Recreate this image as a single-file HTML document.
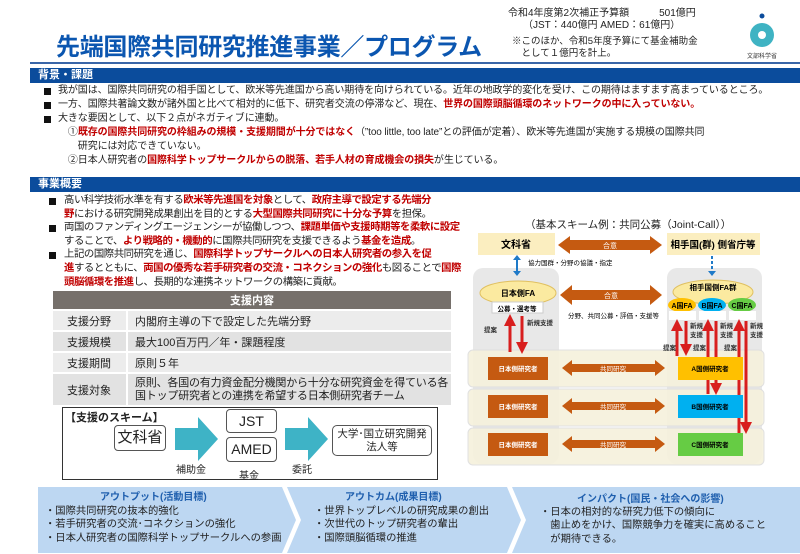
<!DOCTYPE html>
<html><head><meta charset="utf-8"><style>
*{margin:0;padding:0;box-sizing:border-box}
body{width:800px;height:554px;background:#fff;position:relative;overflow:hidden;font-family:"Liberation Sans","Noto Sans CJK JP",sans-serif;color:#222}
.a{position:absolute;white-space:nowrap}
.r{color:#c00000;font-weight:bold}
.bar{position:absolute;left:30px;width:770px;height:15px;background:#0b4c9c;color:#fff;font-size:11px;font-weight:bold;padding-left:8px;line-height:15px}
.bl{font-size:10px;line-height:14px;letter-spacing:-0.1px}
.bl2{font-size:10.4px;line-height:13.6px;letter-spacing:-0.45px}
.sq{position:absolute;width:7px;height:7px;background:#111}
table{border-collapse:collapse}
</style></head><body>
<div class="a" style="left:56px;top:27px;font-size:24px;font-weight:bold;color:#0b56b0;letter-spacing:-0.3px">先端国際共同研究推進事業／プログラム</div>
<div class="a" style="left:30px;top:62px;width:770px;height:2px;background:#3a66a8"></div>
<div class="a" style="left:508px;top:8px;font-size:10px;line-height:12px">令和4年度第2次補正予算額　　　501億円<br>　　（JST：440億円 AMED：61億円）</div>
<div class="a" style="left:512px;top:36px;font-size:9.5px;line-height:12px">※このほか、令和5年度予算にて基金補助金<br>　として１億円を計上。</div>
<svg class="a" style="left:745px;top:12px" width="34" height="50"><circle cx="17" cy="4" r="2.5" fill="#0b4c9c"/><circle cx="17" cy="23" r="12" fill="#3fb3c3"/><circle cx="17" cy="23" r="4" fill="#fff"/><text x="17" y="46" font-size="6" text-anchor="middle" fill="#333">文部科学省</text></svg>

<div class="bar" style="top:68px">背景・課題</div>
<div class="sq" style="left:44px;top:88px"></div><div class="sq" style="left:44px;top:102px"></div><div class="sq" style="left:44px;top:116px"></div>
<div class="a bl" style="left:58px;top:84px">我が国は、国際共同研究の相手国として、欧米等先進国から高い期待を向けられている。近年の地政学的変化を受け、この期待はますます高まっているところ。<br>一方、国際共著論文数が諸外国と比べて相対的に低下、研究者交流の停滞など、現在、<span class="r">世界の国際頭脳循環のネットワークの中に入っていない。</span><br>大きな要因として、以下２点がネガティブに連動。<br>　①<span class="r">既存の国際共同研究の枠組みの規模・支援期間が十分ではなく</span>（”too little, too late”との評価が定着）、欧米等先進国が実施する規模の国際共同<br>　　研究には対応できていない。<br>　②日本人研究者の<span class="r">国際科学トップサークルからの脱落、若手人材の育成機会の損失</span>が生じている。</div>

<div class="bar" style="top:177px">事業概要</div>
<div class="sq" style="left:49px;top:198px"></div><div class="sq" style="left:49px;top:225px"></div><div class="sq" style="left:49px;top:252px"></div>
<div class="a bl2" style="left:64px;top:194px">高い科学技術水準を有する<span class="r">欧米等先進国を対象</span>として、<span class="r">政府主導で設定する先端分</span><br><span class="r">野</span>における研究開発成果創出を目的とする<span class="r">大型国際共同研究に十分な予算</span>を担保。<br>両国のファンディングエージェンシーが協働しつつ、<span class="r">課題単価や支援時期等を柔軟に設定</span><br>することで、<span class="r">より戦略的・機動的</span>に国際共同研究を支援できるよう<span class="r">基金を造成</span>。<br>上記の国際共同研究を通じ、<span class="r">国際科学トップサークルへの日本人研究者の参入を促</span><br><span class="r">進</span>するとともに、<span class="r">両国の優秀な若手研究者の交流・コネクションの強化</span>も図ることで<span class="r">国際</span><br><span class="r">頭脳循環を推進</span>し、長期的な連携ネットワークの構築に貢献。</div>

<table class="a" style="left:53px;top:291px;width:398px;font-size:11px">
<tr><td colspan="2" style="height:19px;background:#76706b;color:#fff;text-align:center;font-weight:bold;border-bottom:2px solid #fff">支援内容</td></tr>
<tr style="background:#ececec"><td style="width:74px;height:21px;padding-left:14px;border-right:2px solid #fff;border-bottom:2px solid #fff">支援分野</td><td style="padding-left:7px;border-bottom:2px solid #fff">内閣府主導の下で設定した先端分野</td></tr>
<tr style="background:#e2e2e2"><td style="height:21px;padding-left:14px;border-right:2px solid #fff;border-bottom:2px solid #fff">支援規模</td><td style="padding-left:7px;border-bottom:2px solid #fff">最大100百万円／年・課題程度</td></tr>
<tr style="background:#ececec"><td style="height:21px;padding-left:14px;border-right:2px solid #fff;border-bottom:2px solid #fff">支援期間</td><td style="padding-left:7px;border-bottom:2px solid #fff">原則５年</td></tr>
<tr style="background:#e2e2e2"><td style="height:32px;padding-left:14px;border-right:2px solid #fff">支援対象</td><td style="padding-left:7px;line-height:13px;letter-spacing:-0.2px">原則、各国の有力資金配分機関から十分な研究資金を得ている各<br>国トップ研究者との連携を希望する日本側研究者チーム</td></tr>
</table>

<div class="a" style="left:62px;top:407px;width:376px;height:73px;border:1px solid #333;background:#fff"></div>
<div class="a" style="left:65px;top:409px;font-size:11px;font-weight:bold">【支援のスキーム】</div>
<div class="a" style="left:114px;top:425px;width:52px;height:26px;border:1px solid #555;border-radius:4px;font-size:15px;text-align:center;line-height:24px">文科省</div>
<div class="a" style="left:226px;top:409px;width:51px;height:24px;border:1px solid #555;border-radius:4px;font-size:14px;text-align:center;line-height:22px">JST</div>
<div class="a" style="left:226px;top:437px;width:51px;height:25px;border:1px solid #555;border-radius:4px;font-size:14px;text-align:center;line-height:23px">AMED</div>
<div class="a" style="left:332px;top:425px;width:100px;height:31px;border:1px solid #555;border-radius:5px;font-size:10.5px;text-align:center;line-height:13px;padding-top:2px">大学･国立研究開発<br>法人等</div>
<svg class="a" style="left:0;top:0" width="470" height="480">
<polygon points="175,428 198,428 198,417 218,439 198,461 198,450 175,450" fill="#3eb3c6"/>
<polygon points="285,428 308,428 308,417 328,439 308,461 308,450 285,450" fill="#3eb3c6"/>
</svg>
<div class="a" style="left:176px;top:461px;font-size:10px">補助金</div>
<div class="a" style="left:239px;top:467px;font-size:10px">基金</div>
<div class="a" style="left:292px;top:461px;font-size:10px">委託</div>

<div class="a" style="left:525px;top:217px;font-size:10.5px">（基本スキーム例：共同公募（Joint-Call））</div>
<svg class="a" style="left:0;top:0" width="800" height="480" font-family="Liberation Sans,Noto Sans CJK JP,sans-serif">
<defs>
<marker id="rh" markerWidth="4" markerHeight="4" refX="2" refY="2" orient="auto"><path d="M0,0L4,2L0,4z" fill="#d81e1e"/></marker>
</defs>
<rect x="473" y="268" width="86" height="196" rx="10" fill="#e8e8e8"/>
<rect x="667" y="268" width="95" height="196" rx="10" fill="#e8e8e8"/>
<rect x="468" y="350" width="296" height="37" rx="5" fill="#f6f1dc" stroke="#ddd" opacity="0.9"/>
<rect x="468" y="389" width="296" height="37" rx="5" fill="#f6f1dc" stroke="#ddd" opacity="0.9"/>
<rect x="468" y="428" width="296" height="37" rx="5" fill="#f6f1dc" stroke="#ddd" opacity="0.9"/>
<rect x="478" y="233" width="77" height="22" fill="#fbeec0"/>
<text x="516" y="248" font-size="10" font-weight="bold" text-anchor="middle">文科省</text>
<rect x="667" y="233" width="93" height="22" fill="#fbeec0"/>
<text x="713" y="248" font-size="9.5" font-weight="bold" text-anchor="middle">相手国(群) 側省庁等</text>
<polygon points="558,245 570,236 570,240 650,240 650,236 662,245 650,254 650,250 570,250 570,254" fill="#c55a11"/>
<text x="610" y="248" font-size="7" fill="#fff" text-anchor="middle">合意</text>
<polygon points="560,295 572,285 572,290 650,290 650,285 662,295 650,305 650,300 572,300 572,305" fill="#c55a11"/>
<text x="611" y="298" font-size="7" fill="#fff" text-anchor="middle">合意</text>
<text x="568" y="318" font-size="6.5">分野、共同公募・評価・支援等</text>
<line x1="517" y1="258" x2="517" y2="273" stroke="#1f7ac8" stroke-width="2"/>
<path d="M513,260L517,255L521,260zM513,271L517,276L521,271z" fill="#1f7ac8"/>
<text x="528" y="265" font-size="6.5">協力国群・分野の協議・指定</text>
<line x1="712" y1="256" x2="712" y2="271" stroke="#1f7ac8" stroke-width="2" stroke-dasharray="3,2"/>
<path d="M708,271L712,276L716,271z" fill="#1f7ac8"/>
<ellipse cx="518" cy="293" rx="38" ry="12" fill="#fbeaa0" stroke="#e0c060"/>
<text x="518" y="296" font-size="8" font-weight="bold" text-anchor="middle">日本側FA</text>
<rect x="492" y="302" width="51" height="11" fill="#fff" stroke="#ccc"/>
<text x="517" y="311" font-size="6.5" font-weight="bold" text-anchor="middle">公募・選考等</text>
<ellipse cx="713" cy="292" rx="40" ry="12" fill="#fbeaa0" stroke="#e0c060"/>
<text x="713" y="290" font-size="7.5" font-weight="bold" text-anchor="middle">相手国側FA群</text>
<ellipse cx="682" cy="305" rx="14" ry="7" fill="#ffc000"/><text x="682" y="308" font-size="7" font-weight="bold" text-anchor="middle">A国FA</text>
<ellipse cx="712" cy="305" rx="14" ry="7" fill="#00b0f0"/><text x="712" y="308" font-size="7" font-weight="bold" text-anchor="middle">B国FA</text>
<ellipse cx="742" cy="305" rx="14" ry="7" fill="#66cc44"/><text x="742" y="308" font-size="7" font-weight="bold" text-anchor="middle">C国FA</text>
<rect x="669" y="311" width="27" height="9" fill="#fff"/><rect x="699" y="311" width="27" height="9" fill="#fff"/><rect x="729" y="311" width="27" height="9" fill="#fff"/>
<g stroke="#d81e1e" stroke-width="3">
<line x1="510" y1="352" x2="510" y2="320" marker-end="url(#rh)"/>
<line x1="522" y1="316" x2="522" y2="348" marker-end="url(#rh)"/>
<line x1="677" y1="356" x2="677" y2="325" marker-end="url(#rh)"/>
<line x1="686" y1="321" x2="686" y2="350" marker-end="url(#rh)"/>
<line x1="708" y1="394" x2="708" y2="325" marker-end="url(#rh)"/>
<line x1="716" y1="321" x2="716" y2="389" marker-end="url(#rh)"/>
<line x1="739" y1="433" x2="739" y2="325" marker-end="url(#rh)"/>
<line x1="746" y1="321" x2="746" y2="428" marker-end="url(#rh)"/>
</g>
<g font-size="6.5" font-weight="bold" fill="#333">
<text x="484" y="332">提案</text><text x="527" y="325">新規支援</text>
<text x="663" y="350">提案</text><text x="690" y="328">新規</text><text x="690" y="337">支援</text>
<text x="693" y="350">提案</text><text x="720" y="328">新規</text><text x="720" y="337">支援</text>
<text x="724" y="350">提案</text><text x="750" y="328">新規</text><text x="750" y="337">支援</text>
</g>
<g font-size="6.5" fill="#fff" text-anchor="middle" font-weight="bold">
<rect x="488" y="357" width="60" height="23" fill="#c55a11"/><text x="518" y="371">日本側研究者</text>
<rect x="488" y="395" width="60" height="23" fill="#c55a11"/><text x="518" y="409">日本側研究者</text>
<rect x="488" y="433" width="60" height="23" fill="#c55a11"/><text x="518" y="447">日本側研究者</text>
</g>
<g>
<polygon points="562,368 572,360 572,364 655,364 655,360 665,368 655,376 655,372 572,372 572,376" fill="#c55a11"/>
<polygon points="562,406 572,398 572,402 655,402 655,398 665,406 655,414 655,410 572,410 572,414" fill="#c55a11"/>
<polygon points="562,444 572,436 572,440 655,440 655,436 665,444 655,452 655,448 572,448 572,452" fill="#c55a11"/>
<g font-size="6.5" fill="#fff" text-anchor="middle"><text x="613" y="371">共同研究</text><text x="613" y="409">共同研究</text><text x="613" y="447">共同研究</text></g>
</g>
<rect x="678" y="357" width="65" height="23" fill="#ffc000"/><text x="710" y="371" font-size="6.5" text-anchor="middle" font-weight="bold">A国側研究者</text>
<rect x="678" y="395" width="65" height="23" fill="#00b0f0"/><text x="710" y="409" font-size="6.5" text-anchor="middle" font-weight="bold">B国側研究者</text>
<rect x="678" y="433" width="65" height="23" fill="#66cc44"/><text x="710" y="447" font-size="6.5" text-anchor="middle" font-weight="bold">C国側研究者</text>
</svg>

<svg class="a" style="left:0;top:485px" width="800" height="69">
<polygon points="38,2 282,2 296,35 282,68 38,68" fill="#bdd7f2"/>
<polygon points="287,2 507,2 521,35 507,68 287,68 301,35" fill="#bdd7f2"/>
<polygon points="512,2 800,2 800,68 512,68 526,35" fill="#bdd7f2"/>
</svg>
<div class="a" style="left:100px;top:488px;font-size:10px;font-weight:bold;color:#1f5fae">アウトプット(活動目標)</div>
<div class="a" style="left:45px;top:505px;font-size:10.3px;line-height:13.3px">・国際共同研究の抜本的強化<br>・若手研究者の交流･コネクションの強化<br>・日本人研究者の国際科学トップサークルへの参画</div>
<div class="a" style="left:345px;top:488px;font-size:10px;font-weight:bold;color:#1f5fae">アウトカム(成果目標)</div>
<div class="a" style="left:314px;top:505px;font-size:10.3px;line-height:13.3px">・世界トップレベルの研究成果の創出<br>・次世代のトップ研究者の輩出<br>・国際頭脳循環の推進</div>
<div class="a" style="left:577px;top:490px;font-size:10px;font-weight:bold;color:#1f5fae">インパクト(国民・社会への影響)</div>
<div class="a" style="left:540px;top:506px;font-size:10.3px;line-height:13.3px">・日本の相対的な研究力低下の傾向に<br>　歯止めをかけ、国際競争力を確実に高めること<br>　が期待できる。</div>
</body></html>
